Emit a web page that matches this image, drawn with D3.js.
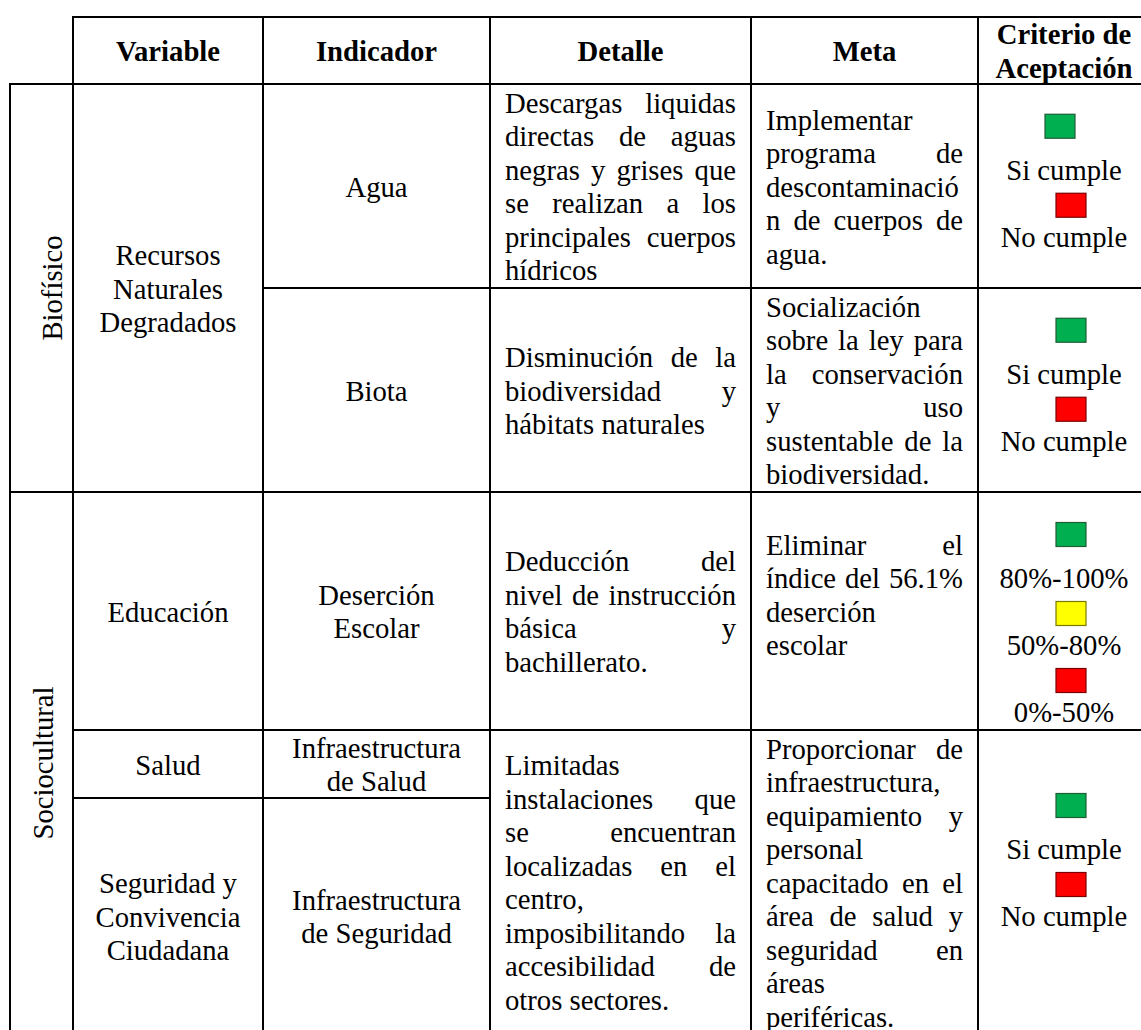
<!DOCTYPE html>
<html><head><meta charset="utf-8">
<script src="https://cdn.jsdelivr.net/npm/d3@7"></script>
<style>body{margin:0;background:#fff}svg{display:block}</style>
</head><body><svg id="c" width="1141" height="1030"></svg>
<script>
// ---------------- data ----------------
const headers = [["Variable"], ["Indicador"], ["Detalle"], ["Meta"], ["Criterio de", "Aceptación"]];
const dimensions = ["Biofísico", "Sociocultural"];
const variables = [["Recursos", "Naturales", "Degradados"], ["Educación"], ["Salud"], ["Seguridad y", "Convivencia", "Ciudadana"]];
const indicadores = [["Agua"], ["Biota"], ["Deserción", "Escolar"], ["Infraestructura", "de Salud"], ["Infraestructura", "de Seguridad"]];
const detalles = [
  ["Descargas liquidas", "directas de aguas", "negras y grises que", "se realizan a los", "principales cuerpos", "hídricos"],
  ["Disminución de la", "biodiversidad y", "hábitats naturales"],
  ["Deducción del", "nivel de instrucción", "básica y", "bachillerato."],
  ["Limitadas", "instalaciones que", "se encuentran", "localizadas en el", "centro,", "imposibilitando la", "accesibilidad de", "otros sectores."]
];
const metas = [
  ["Implementar", "programa de", "descontaminació", "n de cuerpos de", "agua."],
  ["Socialización", "sobre la ley para", "la conservación", "y uso", "sustentable de la", "biodiversidad."],
  ["Eliminar el", "índice del 56.1%", "deserción", "escolar", ""],
  ["Proporcionar de", "infraestructura,", "equipamiento y", "personal", "capacitado en el", "área de salud y", "seguridad en", "áreas", "periféricas."]
];
// "[si]", "[medio]", "[no]" = coloured status squares
const criterios = [
  ["[si]", "Si cumple", "[no]", "No cumple"],
  ["[si]", "Si cumple", "[no]", "No cumple"],
  ["", "[si]", "80%-100%", "[medio]", "50%-80%", "[no]", "0%-50%"],
  ["[si]", "Si cumple", "[no]", "No cumple", ""]
];

// ---------------- layout ----------------
const colEdges = [10, 73, 263, 490, 751, 978, 1150];
const rowEdges = [17, 84, 288, 492, 730, 798, 1034];
const dimSpans = [[1, 3], [3, 6]];
const dimBaselineX = [62, 53];
const varSpans = [[1, 3], [3, 4], [4, 5], [5, 6]];
const indSpans = [[1, 2], [2, 3], [3, 4], [4, 5], [5, 6]];
const blockSpans = [[1, 2], [2, 3], [3, 4], [4, 6]];
const FS = 28.7, LH = 33.5, BASE = 10.5, PAD = 15;
const FONT = "'Liberation Serif','Times New Roman',serif";
const sqColors = {"[si]": ["#00b050", "#1e5e34"], "[medio]": ["#ffff00", "#7a7a00"], "[no]": ["#ff0000", "#7a0000"]};
const SQW = 30, SQH = 24, SQDX = 7;
const sqShift = {"0-0": -11};

const svg = d3.select("#c");
svg.append("rect").attr("width", 1141).attr("height", 1030).attr("fill", "#fff");
const x = i => colEdges[i];
const y = i => rowEdges[i];

const gText = svg.append("g").attr("font-family", FONT).attr("font-size", FS).attr("fill", "#000");
const gGrid = svg.append("g").attr("fill", "none").attr("stroke", "#000").attr("stroke-width", 2);

function cellRect(c0, c1, r0, r1) {
  gGrid.append("rect").attr("x", x(c0)).attr("y", y(r0)).attr("width", x(c1) - x(c0)).attr("height", y(r1) - y(r0));
}
function baselines(n, r0, r1) {
  const cy = (y(r0) + y(r1)) / 2;
  return d3.range(n).map(i => cy + BASE + (i - (n - 1) / 2) * LH);
}
function centeredLines(lines, c, r0, r1, bold) {
  const cx = (x(c) + x(c + 1)) / 2;
  const bs = baselines(lines.length, r0, r1);
  gText.selectAll(null).data(lines).join("text")
    .attr("x", cx).attr("y", (d, i) => bs[i]).attr("text-anchor", "middle")
    .attr("font-weight", bold ? "bold" : null).text(d => d);
}
function justifiedLines(lines, c, r0, r1) {
  const x0 = x(c) + PAD, x1 = x(c + 1) - PAD, W = x1 - x0;
  const bs = baselines(lines.length, r0, r1);
  let last = lines.length - 1;
  while (last > 0 && lines[last] === "") last--;
  lines.forEach((line, i) => {
    if (!line) return;
    const words = line.split(" ");
    if (i === last || words.length === 1) {
      gText.append("text").attr("x", x0).attr("y", bs[i]).text(line);
      return;
    }
    const nodes = words.map(w => gText.append("text").attr("y", bs[i]).text(w));
    const widths = nodes.map(n => n.node().getComputedTextLength());
    const gap = (W - d3.sum(widths)) / (words.length - 1);
    let cx = x0;
    nodes.forEach((n, k) => { n.attr("x", cx); cx += widths[k] + gap; });
  });
}
function criterioCell(items, c, r0, r1, ci) {
  const cx = (x(c) + x(c + 1)) / 2;
  const bs = baselines(items.length, r0, r1);
  let sqIndex = 0;
  items.forEach((it, i) => {
    if (!it) return;
    if (sqColors[it]) {
      const top = bs[i] - (sqIndex === 0 ? 32 : 20);
      const dx = sqShift[ci + "-" + sqIndex] || 0;
      sqIndex++;
      svg.append("rect").attr("x", cx + SQDX - SQW / 2 + dx).attr("y", top)
        .attr("width", SQW).attr("height", SQH)
        .attr("fill", sqColors[it][0]).attr("stroke", sqColors[it][1]).attr("stroke-width", 1.2);
    } else {
      gText.append("text").attr("x", cx).attr("y", bs[i]).attr("text-anchor", "middle").text(it);
    }
  });
}

// header
headers.forEach((h, i) => { cellRect(i + 1, i + 2, 0, 1); centeredLines(h, i + 1, 0, 1, true); });
// dimensions (rotated)
dimensions.forEach((d, i) => {
  const [r0, r1] = dimSpans[i];
  cellRect(0, 1, r0, r1);
  gText.append("text").attr("text-anchor", "middle")
    .attr("transform", `translate(${dimBaselineX[i]},${(y(r0) + y(r1)) / 2}) rotate(-90)`).text(d);
});
variables.forEach((v, i) => { const [r0, r1] = varSpans[i]; cellRect(1, 2, r0, r1); centeredLines(v, 1, r0, r1); });
indicadores.forEach((v, i) => { const [r0, r1] = indSpans[i]; cellRect(2, 3, r0, r1); centeredLines(v, 2, r0, r1); });
detalles.forEach((v, i) => { const [r0, r1] = blockSpans[i]; cellRect(3, 4, r0, r1); justifiedLines(v, 3, r0, r1); });
metas.forEach((v, i) => { const [r0, r1] = blockSpans[i]; cellRect(4, 5, r0, r1); justifiedLines(v, 4, r0, r1); });
criterios.forEach((v, i) => { const [r0, r1] = blockSpans[i]; cellRect(5, 6, r0, r1); criterioCell(v, 5, r0, r1, i); });
gGrid.raise();
</script></body></html>
